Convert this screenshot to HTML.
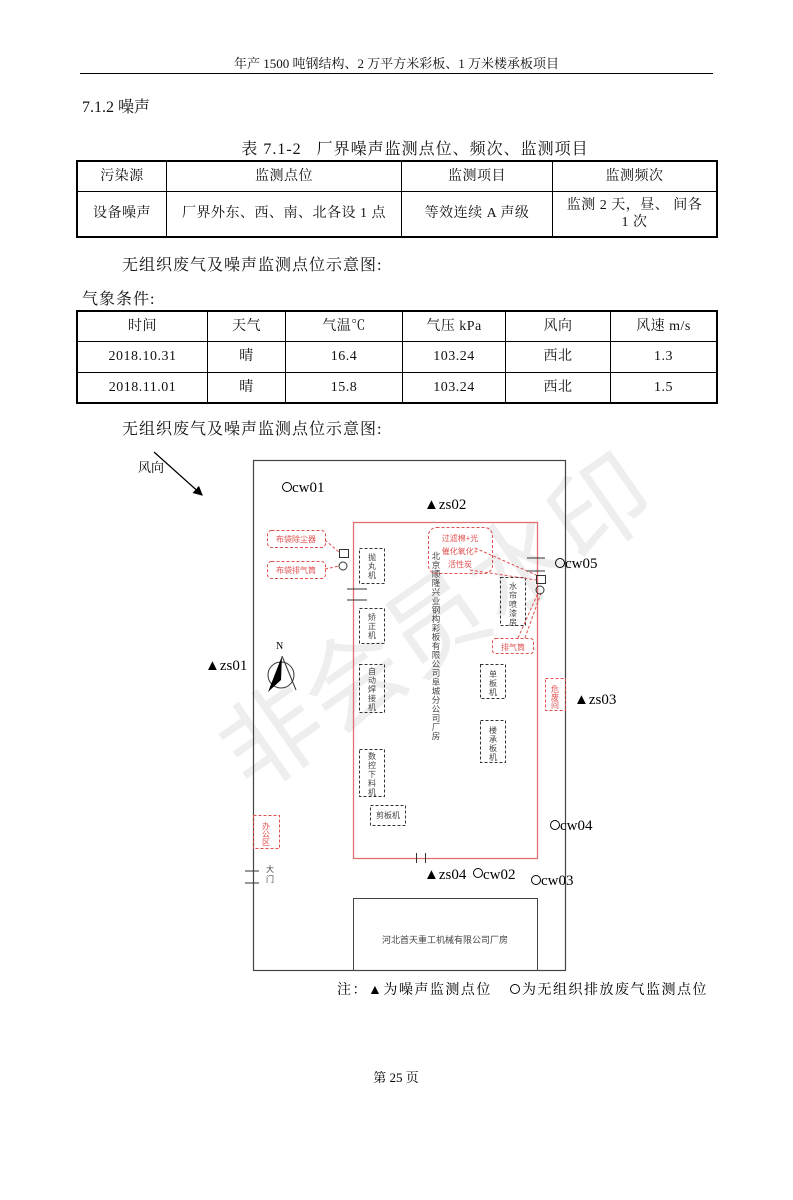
<!DOCTYPE html>
<html><head><meta charset="utf-8">
<style>
body{margin:0;width:793px;height:1122px;background:#fff;position:relative;overflow:hidden;font-family:"Liberation Serif","Noto Serif CJK SC",serif;color:#111}
.a{position:absolute;white-space:nowrap}
table{position:absolute;border-collapse:collapse;border:2px solid #000}
td{border:1px solid #000;text-align:center;font-size:14px;padding:0;line-height:17px;letter-spacing:0.5px}
</style></head><body>
<div class="a" style="left:0;width:793px;top:-200px;height:1400px;pointer-events:none">
<div class="a" style="left:185px;top:900px;font-size:100px;color:#eeeeee;transform:rotate(-35deg);transform-origin:left top;font-family:'Noto Sans CJK SC',sans-serif;letter-spacing:0px">非会员水印</div></div>
<div class="a" style="left:0;width:793px;text-align:center;top:53px;font-size:13px">年产 1500 吨钢结构、2 万平方米彩板、1 万米楼承板项目</div>
<div class="a" style="left:80px;top:73px;width:633px;height:1px;background:#000"></div>
<div class="a" style="left:82px;top:94px;font-size:16px">7.1.2 噪声</div>
<div class="a" style="left:0;width:830px;text-align:center;top:136px;font-size:16px;letter-spacing:1px">表 7.1-2&nbsp;&nbsp;&nbsp;厂界噪声监测点位、频次、监测项目</div>
<table style="left:76px;top:160px;width:642px;height:78px">
<tr style="height:30px"><td style="width:88px">污染源</td><td style="width:234px">监测点位</td><td style="width:150px">监测项目</td><td>监测频次</td></tr>
<tr><td>设备噪声</td><td>厂界外东、西、南、北各设 1 点</td><td>等效连续 A 声级</td><td>监测 2 天，昼、&nbsp;间各<br>1 次</td></tr>
</table>
<div class="a" style="left:122px;top:252px;font-size:16px;letter-spacing:1px">无组织废气及噪声监测点位示意图:</div>
<div class="a" style="left:82px;top:286px;font-size:16px;letter-spacing:1px">气象条件:</div>
<table style="left:76px;top:310px;width:642px;height:94px">
<tr><td style="width:129px">时间</td><td style="width:77px">天气</td><td style="width:116px">气温℃</td><td style="width:102px">气压 kPa</td><td style="width:104px">风向</td><td>风速 m/s</td></tr>
<tr><td>2018.10.31</td><td>晴</td><td>16.4</td><td>103.24</td><td>西北</td><td>1.3</td></tr>
<tr><td>2018.11.01</td><td>晴</td><td>15.8</td><td>103.24</td><td>西北</td><td>1.5</td></tr>
</table>
<div class="a" style="left:122px;top:416px;font-size:16px;letter-spacing:1px">无组织废气及噪声监测点位示意图:</div>

<svg class="a" style="left:0;top:0" width="793" height="1122" font-family="Liberation Serif, Noto Serif CJK SC, serif">
<defs><marker id="ar" markerWidth="8" markerHeight="8" refX="7" refY="4" orient="auto"><path d="M0,0 L8,4 L0,8 z" fill="#000"/></marker></defs>
<text x="138" y="472" font-size="13">风向</text>
<line x1="154" y1="452" x2="202" y2="495" stroke="#000" stroke-width="1.2" marker-end="url(#ar)"/>
<rect x="253.5" y="460.5" width="312" height="510" fill="none" stroke="#444" stroke-width="1.2"/>
<rect x="353.5" y="522.5" width="184" height="336" fill="none" stroke="#e07070" stroke-width="1.3"/>
<rect x="353.5" y="898.5" width="184" height="72" fill="none" stroke="#444"/>
<text x="445" y="943" font-size="9" text-anchor="middle" fill="#444" font-family="Noto Sans CJK SC,sans-serif">河北首天重工机械有限公司厂房</text>
<g fill="none" stroke="#000" stroke-width="1">
<circle cx="287" cy="487" r="4.5"/><circle cx="560" cy="563" r="4.5"/><circle cx="555" cy="825" r="4.5"/>
<circle cx="478" cy="873" r="4.5"/><circle cx="536" cy="880" r="4.5"/>
</g>
<g font-size="15" fill="#000">
<text x="292" y="492">cw01</text>
<text x="424" y="509">▲zs02</text>
<text x="565" y="568">cw05</text>
<text x="205" y="670">▲zs01</text>
<text x="574" y="704">▲zs03</text>
<text x="560" y="830">cw04</text>
<text x="424" y="879">▲zs04</text>
<text x="483" y="879">cw02</text>
<text x="541" y="885">cw03</text>
</g>
<g fill="none" stroke="#333" stroke-dasharray="3,2">
<rect x="359.5" y="548.5" width="25" height="35"/><rect x="359.5" y="608.5" width="25" height="35"/>
<rect x="359.5" y="664.5" width="25" height="48"/><rect x="359.5" y="749.5" width="25" height="47"/>
<rect x="370.5" y="805.5" width="35" height="20"/><rect x="480.5" y="664.5" width="25" height="34"/>
<rect x="480.5" y="720.5" width="25" height="42"/><rect x="500.5" y="577.5" width="25" height="48"/>
</g>
<g font-size="8" fill="#444" font-family="Noto Sans CJK SC,sans-serif" text-anchor="middle">
<text x="372" y="560">抛</text><text x="372" y="569">丸</text><text x="372" y="578">机</text>
<text x="372" y="620">矫</text><text x="372" y="629">正</text><text x="372" y="638">机</text>
<text x="372" y="674">自</text><text x="372" y="683">动</text><text x="372" y="692">焊</text><text x="372" y="701">接</text><text x="372" y="710">机</text>
<text x="372" y="759">数</text><text x="372" y="768">控</text><text x="372" y="777">下</text><text x="372" y="786">料</text><text x="372" y="795">机</text>
<text x="388" y="818">剪板机</text>
<text x="493" y="677">单</text><text x="493" y="686">板</text><text x="493" y="695">机</text>
<text x="493" y="733">楼</text><text x="493" y="742">承</text><text x="493" y="751">板</text><text x="493" y="760">机</text>
<text x="513" y="589">水</text><text x="513" y="598">帘</text><text x="513" y="607">喷</text><text x="513" y="616">漆</text><text x="513" y="625">房</text>
<text x="270" y="872">大</text><text x="270" y="882">门</text>
</g>
<g font-size="8.5" fill="#444" font-family="Noto Sans CJK SC,sans-serif" text-anchor="middle">
<text x="436" y="559">北</text><text x="436" y="568">京</text><text x="436" y="577">顺</text><text x="436" y="586">隆</text><text x="436" y="595">兴</text><text x="436" y="604">业</text><text x="436" y="613">钢</text><text x="436" y="622">构</text><text x="436" y="631">彩</text><text x="436" y="640">板</text><text x="436" y="649">有</text><text x="436" y="658">限</text><text x="436" y="667">公</text><text x="436" y="676">司</text><text x="436" y="685">阜</text><text x="436" y="694">城</text><text x="436" y="703">分</text><text x="436" y="712">公</text><text x="436" y="721">司</text><text x="436" y="730">厂</text><text x="436" y="739">房</text>
</g>
<g fill="none" stroke="#e05050" stroke-dasharray="3,2">
<rect x="267.5" y="530.5" width="58" height="17" rx="4"/><rect x="267.5" y="561.5" width="58" height="17" rx="4"/>
<rect x="428.5" y="527.5" width="64" height="46" rx="8"/><rect x="492.5" y="638.5" width="41" height="15" rx="3"/>
<rect x="545.5" y="678.5" width="20" height="32"/><rect x="253.5" y="815.5" width="26" height="33"/>
<line x1="325" y1="540" x2="339" y2="552"/><line x1="325" y1="569" x2="339" y2="566"/>
<line x1="475" y1="548" x2="536" y2="575"/><line x1="470" y1="570" x2="536" y2="580"/>
<line x1="518" y1="638" x2="538" y2="593"/><line x1="525" y1="638" x2="541" y2="593"/>
</g>
<g font-size="8" fill="#e05050" font-family="Noto Sans CJK SC,sans-serif" text-anchor="middle">
<text x="460" y="541">过滤棉+光</text><text x="460" y="554">催化氧化+</text><text x="460" y="567">活性炭</text>
<text x="296" y="542">布袋除尘器</text><text x="296" y="573">布袋排气筒</text>
<text x="513" y="650">排气筒</text>
<text x="555" y="692">危</text><text x="555" y="700">废</text><text x="555" y="708">间</text>
<text x="266" y="829">办</text><text x="266" y="837">公</text><text x="266" y="845">区</text>
</g>
<g fill="none" stroke="#333">
<rect x="339.5" y="549.5" width="9" height="8"/><circle cx="343" cy="566" r="4"/>
<rect x="536.5" y="575.5" width="9" height="8"/><circle cx="540" cy="590" r="4"/>
<line x1="347" y1="589" x2="367" y2="589"/><line x1="347" y1="600" x2="367" y2="600"/>
<line x1="527" y1="558" x2="545" y2="558"/><line x1="527" y1="571" x2="545" y2="571"/>
<line x1="416.5" y1="853" x2="416.5" y2="863"/><line x1="425.5" y1="853" x2="425.5" y2="863"/>
<line x1="245" y1="871" x2="259" y2="871"/><line x1="245" y1="883" x2="259" y2="883"/>
<circle cx="281" cy="675" r="13"/>
<line x1="282" y1="656" x2="296" y2="690"/>
</g>
<path d="M282,656 L268,692 L281,680 z" fill="#000"/>
<text x="276" y="649" font-size="10">N</text>
<text x="337" y="994" font-size="14" letter-spacing="1.5">注：▲为噪声监测点位</text>
<circle cx="515" cy="989" r="4.5" fill="none" stroke="#000"/>
<text x="522" y="994" font-size="14" letter-spacing="1.5">为无组织排放废气监测点位</text>
<text x="396" y="1082" font-size="13" text-anchor="middle">第 25 页</text>
</svg>
</body></html>
